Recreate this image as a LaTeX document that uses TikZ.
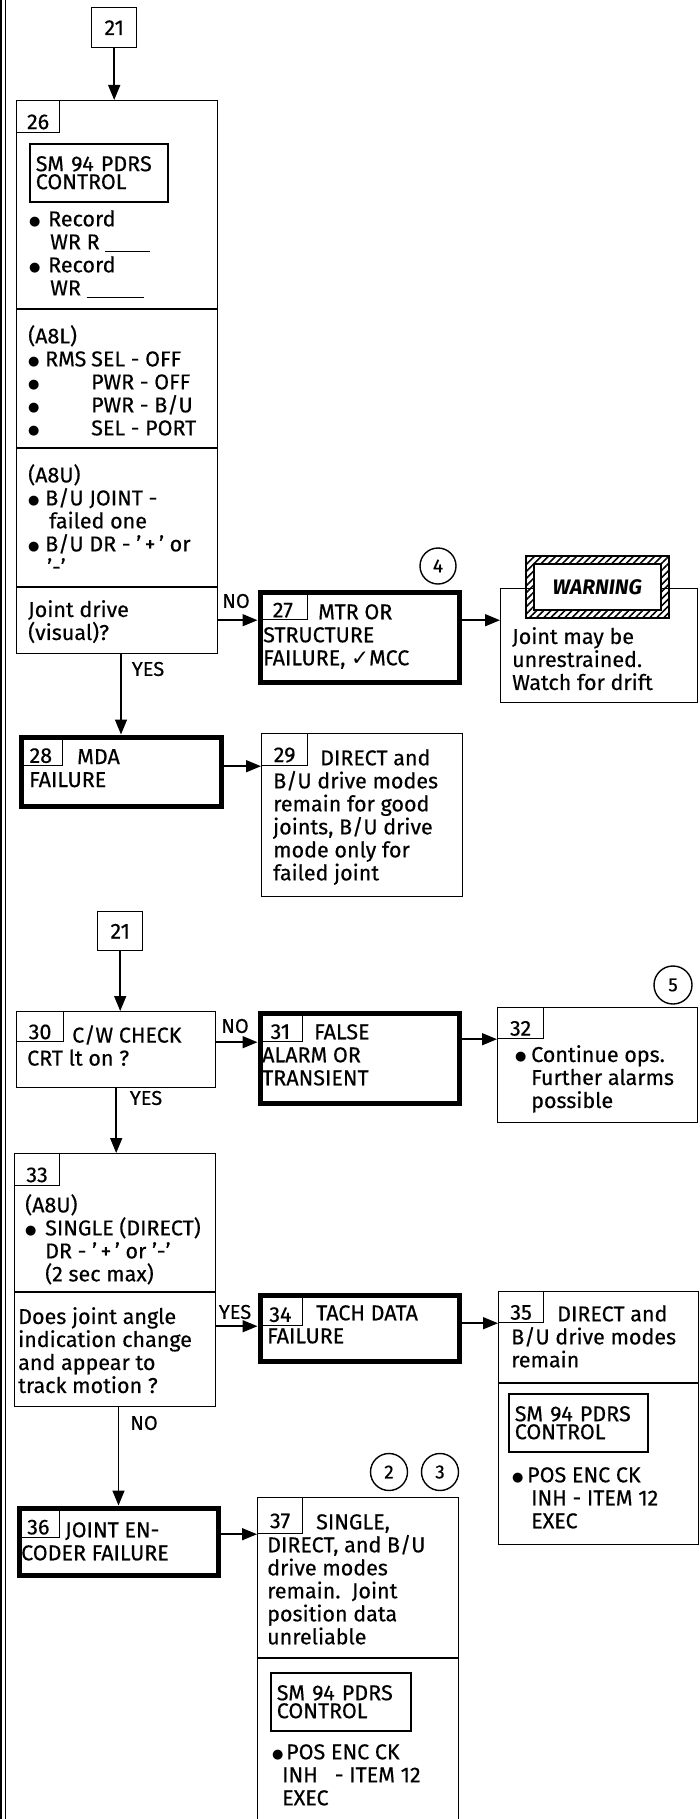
\documentclass[tikz,border=0pt]{standalone}
\usepackage{fontspec}
\setmainfont{Fira Sans}[UprightFeatures={FakeBold=0.4}]
\newfontfamily\symfont{DejaVu Sans}
\usetikzlibrary{arrows.meta, patterns.meta}
\definecolor{inkline}{HTML}{000000}
\newcommand\blt[1][17pt]{\makebox[#1][l]{\raisebox{1pt}{\symfont\fontsize{13}{13}\selectfont ●}}}
\tikzset{
  cardblk/.style = {rectangle, draw=inkline, line width=1.4pt, anchor=north west, inner sep=0pt},
  failblk/.style = {cardblk, line width=5pt},
  tabblk/.style  = {rectangle, draw=inkline, line width=1.2pt, anchor=north west, inner sep=0pt,
                    text height=25pt, text depth=0pt, font=\fontsize{21.5}{23}\selectfont},
  subblk/.style  = {cardblk, line width=1.6pt, align=left, font=\fontsize{21.5}{18}\selectfont},
  txt/.style     = {anchor=north west, inner sep=0pt, align=left, font=\fontsize{21.5}{23}\selectfont},
  lbl/.style     = {inner sep=0pt, font=\fontsize{20}{20}\selectfont},
  refcirc/.style = {circle, draw=inkline, line width=1.4pt, minimum size=36pt, inner sep=0pt,
                    font=\fontsize{19}{20}\selectfont},
  flow/.style    = {-{Triangle[length=15pt, width=12pt]}, line width=1.5pt, draw=inkline},
  divline/.style = {line width=1.4pt, draw=inkline},
}

\begin{document}
\begin{tikzpicture}[x=1pt, y=-1pt]
	\useasboundingbox (0,0) rectangle (699,1819);
	\fill[white] (0,0) rectangle (699,1819);
	\draw[line width=2pt] (1.2,0) -- (1.2,1819);
	\draw[line width=1pt] (5.5,0) -- (5.5,1819);

	% upper chart
	\node[cardblk, minimum width=45, minimum height=40, font=\fontsize{21.5}{23}\selectfont] (c21a) at (91,7) {21};
	\node[cardblk, minimum width=201, minimum height=553] (b26) at (16,100) {};
	\node[failblk, minimum width=199, minimum height=90] (b27) at (257.5,589.5) {};
	\node[cardblk, minimum width=197, minimum height=114] (warn) at (500,588) {};
	\node[failblk, minimum width=200, minimum height=69] (b28) at (18.5,734.5) {};
	\node[cardblk, minimum width=201, minimum height=163] (b29) at (261,733) {};

	% lower chart
	\node[cardblk, minimum width=45, minimum height=39, font=\fontsize{21.5}{23}\selectfont] (c21b) at (97,911) {21};
	\node[cardblk, minimum width=199, minimum height=76] (b30) at (16,1011) {};
	\node[failblk, minimum width=199, minimum height=90] (b31) at (257.5,1010.5) {};
	\node[cardblk, minimum width=200, minimum height=115] (b32) at (497,1007) {};
	\node[cardblk, minimum width=201, minimum height=253] (b33) at (14,1153) {};
	\node[failblk, minimum width=199, minimum height=66] (b34) at (257.5,1292.5) {};
	\node[cardblk, minimum width=200, minimum height=253] (b35) at (498,1291) {};
	\node[failblk, minimum width=199, minimum height=67] (b36) at (16.5,1505.5) {};
	\node[cardblk, minimum width=201, minimum height=330] (b37) at (257,1497) {};

	\foreach \n/\w/\h in {26/43/32, 27/49.5/29.5, 28/43.5/30.5, 29/46/32, 30/47/30, 31/44.5/30.5,
	                      32/46/31, 33/45/32, 34/44.5/32.5, 35/45/31, 36/42.5/31.5, 37/45/36}
	  {\node[tabblk, minimum width=\w, minimum height=\h] (t\n) at (b\n.north west) {\n};}

	% section rules
	\foreach \y in {309, 448, 587}{\draw[divline] (b26.west |- 0,\y) -- (b26.east |- 0,\y);}
	\draw[divline] (b33.west |- 0,1292) -- (b33.east |- 0,1292);
	\draw[divline] (b35.west |- 0,1383) -- (b35.east |- 0,1383);
	\draw[divline] (b37.west |- 0,1658) -- (b37.east |- 0,1658);

	% PDRS panels
	\node[subblk, minimum width=138, minimum height=58, text width=126pt] (i26) at (29,143) {SM 94 PDRS\\CONTROL};
	\node[subblk, minimum width=139, minimum height=58, text width=127pt] (i35) at (508,1393) {SM 94 PDRS\\CONTROL};
	\node[subblk, minimum width=140, minimum height=58, text width=128pt] (i37) at (270,1672) {SM 94 PDRS\\CONTROL};

	% texts
	\node[txt] (x26a) at (29,210) {\blt[19pt]Record\\\hspace*{21pt}WR R \rule[-3pt]{45pt}{1.2pt}\\
	  \blt[19pt]Record\\\hspace*{21pt}WR \rule[-3pt]{57pt}{1.2pt}};
	\node[txt] (x26b) at (28,325) {(A8L)\\\blt\makebox[46pt][l]{RMS}SEL - OFF\\\blt\hspace*{46pt}PWR - OFF\\
	  \blt\hspace*{46pt}PWR - B/U\\\blt\hspace*{46pt}SEL - PORT};
	\node[txt] (x26c) at (28,464) {(A8U)\\\blt B/U JOINT -\\\hspace*{21pt}failed one\\
	  \blt B/U DR - ’\,+\,’ or\\\hspace*{19pt}’-’};
	\node[txt] (x26d) at (28,600) {Joint drive\\(visual)?};
	\node[txt] (x27) at (263,604) {\hspace*{55pt}MTR OR\\STRUCTURE\\FAILURE, {\symfont ✓}MCC};
	\node[txt] (xwarn) at (512,627) {Joint may be\\unrestrained.\\Watch for drift};
	\node[txt] (x28) at (29,749) {\hspace*{48pt}MDA\\FAILURE};
	\node[txt] (x29) at (273,749) {\hspace*{47pt}DIRECT and\\B/U drive modes\\remain for good\\joints, B/U drive\\
	  mode only for\\failed joint};
	\node[txt] (x30) at (27,1025) {\hspace*{45pt}C/W CHECK\\CRT lt on ?};
	\node[txt] (x31) at (262,1024) {\hspace*{52pt}FALSE\\ALARM OR\\TRANSIENT};
	\node[txt] (x32) at (515,1045) {\blt[16pt]Continue ops.\\\hspace*{16pt}Further alarms\\\hspace*{16pt}possible};
	\node[txt] (x33a) at (25,1194) {(A8U)\\\blt[20pt]SINGLE (DIRECT)\\\hspace*{20pt}DR - ’\,+\,’ or ’-’\\
	  \hspace*{20pt}(2 sec max)};
	\node[txt] (x33b) at (18,1307) {Does joint angle\\indication change\\and appear to\\track motion ?};
	\node[txt] (x34) at (267,1305) {\hspace*{49pt}TACH DATA\\FAILURE};
	\node[txt] (x35a) at (511,1305) {\hspace*{46pt}DIRECT and\\B/U drive modes\\remain};
	\node[txt] (x35b) at (512,1467) {\blt[15pt]POS ENC CK\\\hspace*{19pt}INH - ITEM 12\\\hspace*{19pt}EXEC};
	\node[txt] (x36) at (21,1522) {\hspace*{44pt}JOINT EN-\\CODER FAILURE};
	\node[txt] (x37a) at (267,1514) {\hspace*{49pt}SINGLE,\\DIRECT, and B/U\\drive modes\\remain.\ \ Joint\\
	  position data\\unreliable};
	\node[txt] (x37b) at (272,1744) {\blt[14pt]POS ENC CK\\\hspace*{10pt}INH\ \ \ - ITEM 12\\\hspace*{10pt}EXEC};

	% warning banner
	\node[cardblk, line width=1.6pt, minimum width=143, minimum height=62,
	      pattern={Lines[angle=45, distance=5pt, line width=1.6pt]}] (wb) at (525,555) {};
	\node[cardblk, line width=1.6pt, fill=white, minimum width=127, minimum height=46,
	      font=\fontsize{21}{23}\selectfont\bfseries\itshape] (wi) at (533,563) {WARNING};

	% reference circles
	\node[refcirc] (r4) at (438,566) {4};
	\node[refcirc, minimum size=38pt] (r5) at (673,985) {5};
	\node[refcirc, minimum size=37pt] (r2) at (389,1472) {2};
	\node[refcirc, minimum size=37pt] (r3) at (440,1472) {3};

	% connectors
	\draw[flow] (c21a.south) -- (c21a.south |- b26.north);
	\draw[flow] (b26.south -| b28.north) -- (b28.north);
	\draw[flow] (b27.east |- t27.south) -- (warn.west |- t27.south);
	\draw[flow] (c21b.south) -- (c21b.south |- b30.north);
	\draw[flow] (b30.south) -- (b30.south |- b33.north);
	\draw[flow] (b33.south -| b36.north) -- (b36.north);
	\foreach \a/\b in {26/27, 28/29, 30/31, 31/32, 33/34, 34/35, 36/37}
	  {\draw[flow] (b\a.east |- t\b.south west) -- (t\b.south west);}

	% branch labels
	\node[lbl] (no27) at (236,601) {NO};
	\node[lbl] (yes28) at (148,669) {YES};
	\node[lbl] (no31) at (235,1026) {NO};
	\node[lbl] (yes33) at (146,1098) {YES};
	\node[lbl] (yes34) at (235,1312) {YES};
	\node[lbl] (no36) at (144,1423) {NO};
\end{tikzpicture}
\end{document}
